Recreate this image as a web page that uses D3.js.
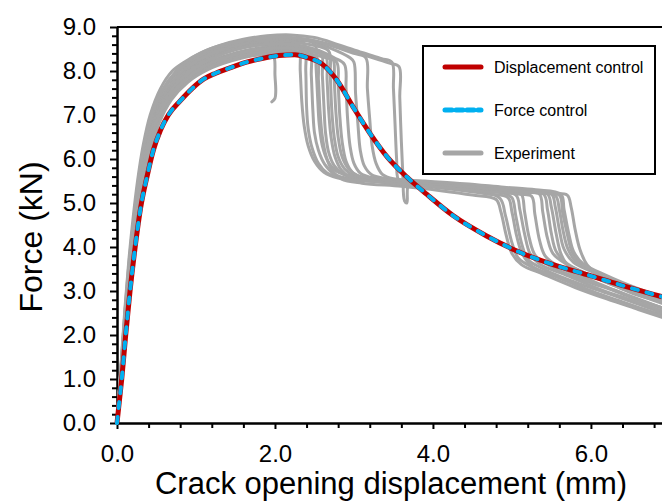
<!DOCTYPE html>
<html><head><meta charset="utf-8">
<script src="https://cdn.jsdelivr.net/npm/d3@7"></script>
<style>body{margin:0;background:#fff} svg{display:block} text{font-family:"Liberation Sans",Arial,sans-serif;fill:#000}</style>
</head><body><svg id="c" width="662" height="502"></svg>
<script>
// ---- data ----
const xMajorTicks = [0, 2, 4, 6];
const xMinorTicks = [0.4, 0.8, 1.2, 1.6, 2.4, 2.8, 3.2, 3.6, 4.4, 4.8, 5.2, 5.6, 6.4, 6.8];
const yMajorTicks = [0, 1, 2, 3, 4, 5, 6, 7, 8, 9];
const yMinorTicks = [0.2,0.4,0.6,0.8,1.2,1.4,1.6,1.8,2.2,2.4,2.6,2.8,3.2,3.4,3.6,3.8,4.2,4.4,4.6,4.8,5.2,5.4,5.6,5.8,6.2,6.4,6.6,6.8,7.2,7.4,7.6,7.8,8.2,8.4,8.6,8.8];
const legendLabels = ["Displacement control", "Force control", "Experiment"];
const xTitle = "Crack opening displacement (mm)";
const yTitle = "Force (kN)";

// model curve (displacement control & force control coincide)
const displacementControl = [[0,0],[0.03,0.5],[0.06,1.0],[0.11,2.0],[0.165,3.0],[0.23,4.0],[0.3,4.9],[0.38,5.6],[0.46,6.2],[0.55,6.65],[0.65,7.0],[0.8,7.32],[0.95,7.6],[1.1,7.82],[1.25,7.95],[1.43,8.07],[1.64,8.2],[1.85,8.29],[2.05,8.35],[2.25,8.37],[2.42,8.3],[2.61,8.14],[2.78,7.8],[2.99,7.18],[3.2,6.59],[3.42,6.05],[3.67,5.59],[3.92,5.2],[4.25,4.72],[4.68,4.25],[5.1,3.88],[5.52,3.6],[5.95,3.37],[6.37,3.14],[6.78,2.93],[6.9,2.87]];
const forceControl = [[0,0],[0.03,0.5],[0.06,1.0],[0.11,2.0],[0.165,3.0],[0.23,4.0],[0.3,4.9],[0.38,5.6],[0.46,6.2],[0.55,6.65],[0.65,7.0],[0.8,7.32],[0.95,7.6],[1.1,7.82],[1.25,7.95],[1.43,8.07],[1.64,8.2],[1.85,8.29],[2.05,8.35],[2.25,8.37],[2.42,8.3],[2.61,8.14],[2.78,7.8],[2.99,7.18],[3.2,6.59],[3.42,6.05],[3.67,5.59],[3.92,5.2],[4.25,4.72],[4.68,4.25],[5.1,3.88],[5.52,3.6],[5.95,3.37],[6.37,3.14],[6.78,2.93],[6.9,2.87]];

// experiments
const exp1 = [[0,0],[0.05,1.3],[0.1,2.6],[0.15,3.7],[0.2,4.6],[0.26,5.5],[0.33,6.3],[0.42,7.0],[0.55,7.6],[0.7,8.0],[0.85,8.2],[1.05,8.4],[1.3,8.58],[1.6,8.72],[1.9,8.8],[2.2,8.82],[2.5,8.76],[2.8,8.6],[3.1,8.42],[3.35,8.28],[3.48,8.2],[3.5,7.6],[3.52,6.8],[3.54,6.0],[3.56,5.55],[3.62,5.5],[3.9,5.47],[4.3,5.42],[4.7,5.36],[5.1,5.3],[5.5,5.22],[5.7,5.18],[5.75,4.9],[5.8,4.4],[5.86,3.95],[5.95,3.6],[6.1,3.35],[6.4,3.1],[6.7,2.9],[6.9,2.78]];
const exp2 = [[0,0],[0.06,1.3],[0.11,2.5],[0.16,3.6],[0.21,4.5],[0.27,5.4],[0.34,6.2],[0.43,6.9],[0.56,7.5],[0.72,7.9],[0.9,8.15],[1.1,8.35],[1.4,8.55],[1.7,8.68],[2.0,8.74],[2.3,8.74],[2.6,8.65],[2.9,8.5],[3.2,8.32],[3.45,8.18],[3.57,8.1],[3.58,7.4],[3.6,6.4],[3.62,5.6],[3.64,5.05],[3.67,5.0],[3.7,5.45],[4.0,5.43],[4.4,5.36],[4.8,5.3],[5.2,5.24],[5.45,5.2],[5.5,4.9],[5.56,4.3],[5.62,3.85],[5.72,3.55],[6.0,3.25],[6.3,3.02],[6.6,2.8],[6.9,2.62]];
const exp3 = [[0,0],[0.06,1.2],[0.12,2.5],[0.18,3.6],[0.24,4.5],[0.31,5.4],[0.39,6.2],[0.5,6.9],[0.65,7.45],[0.85,7.8],[1.1,8.05],[1.4,8.25],[1.7,8.35],[1.95,8.38],[1.99,8.3],[2.0,7.9],[2.01,7.55],[2.0,7.38],[1.96,7.3]];
const exp4 = [[0,0],[0.05,1.2],[0.1,2.4],[0.16,3.6],[0.22,4.6],[0.29,5.5],[0.37,6.3],[0.47,6.95],[0.62,7.5],[0.8,7.9],[1.0,8.18],[1.3,8.42],[1.6,8.58],[1.9,8.65],[2.2,8.66],[2.37,8.62],[2.39,8.0],[2.4,7.2],[2.42,6.7],[2.47,6.25],[2.55,5.9],[2.66,5.68],[2.85,5.56],[3.2,5.5],[3.7,5.44],[4.2,5.36],[4.6,5.28],[4.85,5.1],[4.92,4.7],[5.0,4.1],[5.08,3.75],[5.25,3.55],[5.6,3.3],[6.0,3.0],[6.4,2.75],[6.9,2.45]];
const exp5 = [[0,0],[0.06,1.2],[0.11,2.4],[0.17,3.6],[0.23,4.6],[0.3,5.5],[0.38,6.3],[0.49,6.95],[0.64,7.45],[0.82,7.82],[1.05,8.1],[1.35,8.33],[1.65,8.48],[1.95,8.55],[2.25,8.56],[2.44,8.5],[2.46,7.9],[2.48,7.1],[2.5,6.6],[2.55,6.2],[2.63,5.88],[2.75,5.66],[2.95,5.55],[3.4,5.48],[3.9,5.4],[4.4,5.32],[4.9,5.22],[5.0,5.12],[5.05,4.7],[5.12,4.1],[5.2,3.72],[5.4,3.5],[5.8,3.2],[6.2,2.95],[6.6,2.7],[6.9,2.5]];
const exp6 = [[0,0],[0.05,1.25],[0.1,2.5],[0.15,3.6],[0.21,4.6],[0.28,5.5],[0.36,6.3],[0.46,6.95],[0.6,7.5],[0.78,7.92],[1.0,8.22],[1.3,8.46],[1.6,8.6],[1.9,8.68],[2.2,8.7],[2.5,8.62],[2.52,8.1],[2.54,7.4],[2.56,6.8],[2.6,6.3],[2.67,5.95],[2.78,5.72],[3.0,5.6],[3.5,5.52],[4.0,5.45],[4.5,5.37],[5.0,5.28],[5.12,5.2],[5.16,4.8],[5.22,4.2],[5.3,3.8],[5.5,3.55],[5.9,3.25],[6.3,3.0],[6.6,2.8],[6.9,2.62]];
const exp7 = [[0,0],[0.06,1.25],[0.12,2.5],[0.18,3.6],[0.24,4.55],[0.31,5.45],[0.4,6.25],[0.51,6.9],[0.66,7.4],[0.85,7.78],[1.1,8.08],[1.4,8.3],[1.7,8.44],[2.0,8.5],[2.3,8.5],[2.58,8.42],[2.6,7.9],[2.62,7.2],[2.64,6.6],[2.68,6.15],[2.75,5.85],[2.87,5.65],[3.1,5.55],[3.6,5.48],[4.1,5.4],[4.6,5.3],[5.1,5.2],[5.25,5.15],[5.29,4.75],[5.35,4.15],[5.42,3.8],[5.6,3.55],[6.0,3.22],[6.4,2.95],[6.7,2.75],[6.9,2.62]];
const exp8 = [[0,0],[0.05,1.2],[0.1,2.4],[0.16,3.55],[0.22,4.55],[0.29,5.45],[0.37,6.25],[0.47,6.9],[0.61,7.45],[0.79,7.85],[1.0,8.13],[1.3,8.4],[1.6,8.55],[1.9,8.63],[2.2,8.65],[2.5,8.58],[2.68,8.45],[2.7,7.9],[2.72,7.1],[2.75,6.5],[2.8,6.05],[2.88,5.78],[3.0,5.62],[3.3,5.55],[3.8,5.48],[4.3,5.4],[4.8,5.32],[5.2,5.25],[5.35,5.2],[5.39,4.8],[5.45,4.2],[5.52,3.85],[5.7,3.6],[6.0,3.35],[6.4,3.05],[6.7,2.85],[6.9,2.72]];
const exp9 = [[0,0],[0.06,1.2],[0.12,2.4],[0.18,3.5],[0.25,4.5],[0.32,5.4],[0.41,6.2],[0.52,6.85],[0.68,7.38],[0.88,7.75],[1.12,8.05],[1.42,8.27],[1.72,8.4],[2.0,8.45],[2.3,8.44],[2.6,8.32],[2.78,8.2],[2.8,7.7],[2.82,7.0],[2.85,6.4],[2.9,5.95],[2.98,5.7],[3.1,5.58],[3.5,5.5],[4.0,5.43],[4.5,5.35],[5.0,5.27],[5.4,5.2],[5.45,4.85],[5.5,4.3],[5.56,3.9],[5.7,3.62],[6.0,3.35],[6.3,3.12],[6.6,2.9],[6.9,2.75]];
const exp10 = [[0,0],[0.05,1.2],[0.11,2.45],[0.17,3.6],[0.23,4.55],[0.3,5.45],[0.38,6.25],[0.48,6.9],[0.63,7.45],[0.81,7.85],[1.03,8.15],[1.33,8.4],[1.63,8.55],[1.93,8.6],[2.23,8.6],[2.5,8.5],[2.75,8.3],[2.88,8.15],[2.9,7.6],[2.92,6.9],[2.95,6.3],[3.0,5.9],[3.08,5.68],[3.25,5.57],[3.7,5.5],[4.2,5.42],[4.7,5.33],[5.2,5.25],[5.5,5.2],[5.55,4.9],[5.6,4.4],[5.66,3.95],[5.78,3.65],[6.0,3.45],[6.3,3.2],[6.6,2.98],[6.9,2.82]];
const exp11 = [[0,0],[0.06,1.3],[0.11,2.5],[0.17,3.65],[0.22,4.6],[0.28,5.5],[0.35,6.3],[0.45,7.0],[0.58,7.55],[0.75,7.95],[0.95,8.25],[1.2,8.48],[1.5,8.64],[1.8,8.72],[2.1,8.75],[2.4,8.7],[2.7,8.52],[2.95,8.3],[3.0,8.2],[3.02,7.5],[3.05,6.8],[3.08,6.2],[3.13,5.85],[3.22,5.65],[3.4,5.56],[3.9,5.48],[4.4,5.4],[4.9,5.32],[5.3,5.24],[5.6,5.18],[5.64,4.8],[5.7,4.3],[5.76,3.9],[5.88,3.6],[6.1,3.4],[6.4,3.15],[6.7,2.95],[6.9,2.82]];
const exp12 = [[0,0],[0.06,1.2],[0.12,2.35],[0.18,3.45],[0.25,4.45],[0.33,5.35],[0.42,6.15],[0.53,6.8],[0.69,7.35],[0.9,7.75],[1.15,8.03],[1.45,8.23],[1.75,8.36],[2.05,8.4],[2.35,8.37],[2.53,8.3],[2.55,7.8],[2.57,7.1],[2.6,6.5],[2.65,6.05],[2.72,5.75],[2.84,5.55],[3.1,5.45],[3.6,5.38],[4.1,5.28],[4.5,5.18],[4.8,5.08],[4.86,4.8],[4.93,4.25],[5.0,3.85],[5.12,3.6],[5.4,3.38],[5.8,3.08],[6.2,2.82],[6.6,2.58],[6.9,2.4]];
const exp13 = [[0,0],[0.05,1.2],[0.1,2.4],[0.16,3.55],[0.22,4.5],[0.29,5.4],[0.38,6.25],[0.48,6.9],[0.63,7.42],[0.82,7.8],[1.05,8.08],[1.35,8.3],[1.65,8.45],[1.95,8.52],[2.25,8.53],[2.5,8.45],[2.64,8.36],[2.66,7.8],[2.68,7.1],[2.71,6.5],[2.76,6.05],[2.84,5.75],[2.96,5.58],[3.3,5.48],[3.8,5.4],[4.3,5.3],[4.7,5.2],[4.95,5.12],[5.0,4.8],[5.06,4.25],[5.13,3.85],[5.26,3.55],[5.6,3.3],[6.0,3.0],[6.4,2.72],[6.7,2.55],[6.9,2.42]];
const exp14 = [[0,0],[0.06,1.25],[0.11,2.45],[0.17,3.6],[0.23,4.55],[0.3,5.45],[0.38,6.25],[0.49,6.9],[0.64,7.45],[0.83,7.85],[1.06,8.15],[1.36,8.4],[1.66,8.55],[1.96,8.62],[2.2,8.6],[2.3,8.55],[2.32,8.0],[2.34,7.3],[2.37,6.75],[2.42,6.3],[2.5,5.95],[2.62,5.7],[2.8,5.57],[3.2,5.5],[3.7,5.42],[4.2,5.34],[4.7,5.25],[5.05,5.18],[5.1,4.85],[5.16,4.3],[5.23,3.85],[5.36,3.6],[5.7,3.35],[6.1,3.05],[6.5,2.8],[6.9,2.55]];
const exp15 = [[0,0],[0.05,1.15],[0.11,2.35],[0.17,3.5],[0.24,4.5],[0.31,5.4],[0.4,6.2],[0.5,6.85],[0.66,7.4],[0.86,7.8],[1.1,8.1],[1.4,8.32],[1.7,8.46],[2.0,8.52],[2.3,8.5],[2.55,8.4],[2.73,8.28],[2.75,7.8],[2.77,7.1],[2.8,6.5],[2.85,6.05],[2.93,5.78],[3.05,5.62],[3.4,5.53],[3.9,5.46],[4.4,5.38],[4.9,5.3],[5.3,5.23],[5.55,5.17],[5.6,4.85],[5.65,4.35],[5.71,3.95],[5.82,3.65],[6.1,3.38],[6.4,3.12],[6.7,2.9],[6.9,2.75]];
const exp16 = [[0,0],[0.05,1.25],[0.1,2.5],[0.16,3.65],[0.21,4.6],[0.27,5.5],[0.34,6.3],[0.44,7.0],[0.57,7.55],[0.74,7.98],[0.95,8.3],[1.2,8.52],[1.5,8.66],[1.8,8.74],[2.1,8.77],[2.4,8.72],[2.7,8.58],[3.0,8.4],[3.15,8.3],[3.17,7.6],[3.2,6.9],[3.23,6.3],[3.28,5.9],[3.36,5.65],[3.5,5.55],[3.9,5.5],[4.4,5.44],[4.9,5.36],[5.3,5.3],[5.62,5.2],[5.66,4.85],[5.72,4.3],[5.78,3.9],[5.9,3.62],[6.2,3.35],[6.5,3.12],[6.9,2.85]];
const experiments = [exp1,exp2,exp3,exp4,exp5,exp6,exp7,exp8,exp9,exp10,exp11,exp12,exp13,exp14,exp15,exp16];

// ---- drawing ----
const svg = d3.select("#c");
const L = 117, R = 662, T = 27, B = 423;
const x = d3.scaleLinear().domain([0, 6.9]).range([L, R]);
const y = d3.scaleLinear().domain([0, 9]).range([B, T]);

svg.append("defs").append("clipPath").attr("id","clip")
  .append("rect").attr("x", L-3).attr("y", T).attr("width", R-L+3).attr("height", B-T+3);

const fmt = d3.format(".1f");
// x axis
const gxMinor = svg.append("g").attr("transform", `translate(0,${B})`)
  .call(d3.axisBottom(x).tickValues(xMinorTicks).tickSize(5).tickSizeOuter(0).tickFormat(""));
const gx = svg.append("g").attr("transform", `translate(0,${B})`)
  .call(d3.axisBottom(x).tickValues(xMajorTicks).tickSize(6).tickSizeOuter(0).tickPadding(16).tickFormat(fmt));
// y axis
const gyMinor = svg.append("g").attr("transform", `translate(${L},0)`)
  .call(d3.axisLeft(y).tickValues(yMinorTicks).tickSize(5).tickSizeOuter(0).tickFormat(""));
const gy = svg.append("g").attr("transform", `translate(${L},0)`)
  .call(d3.axisLeft(y).tickValues(yMajorTicks).tickSize(7).tickSizeOuter(0).tickPadding(14).tickFormat(fmt));
[gxMinor, gx, gyMinor, gy].forEach(g => {
  g.selectAll("path.domain").attr("stroke", "#000").attr("stroke-width", 2);
  g.selectAll(".tick line").attr("stroke", "#000").attr("stroke-width", 2);
  g.selectAll(".tick text").attr("font-size", 24).attr("font-family", '"Liberation Sans",Arial,sans-serif').attr("fill", "#000");
});
// top frame line
svg.append("line").attr("x1", L).attr("x2", R).attr("y1", T).attr("y2", T)
  .attr("stroke", "#000").attr("stroke-width", 2);

// curves
const plot = svg.append("g").attr("clip-path", "url(#clip)");
const lineExp = d3.line().x(d => x(d[0])).y(d => y(d[1])).curve(d3.curveCatmullRom.alpha(0.5));
const lineModel = d3.line().x(d => x(d[0])).y(d => y(d[1])).curve(d3.curveMonotoneX);
plot.selectAll("path.exp").data(experiments).join("path").attr("class","exp")
  .attr("d", lineExp).attr("fill","none").attr("stroke","#A6A6A6").attr("stroke-width",3)
  .attr("stroke-linejoin","round").attr("stroke-linecap","round");
plot.append("path").attr("d", lineModel(displacementControl)).attr("fill","none")
  .attr("stroke","#C00000").attr("stroke-width",5).attr("stroke-linejoin","round");
plot.append("path").attr("d", lineModel(forceControl)).attr("fill","none")
  .attr("stroke","#00B0F0").attr("stroke-width",4).attr("stroke-dasharray","6,9").attr("stroke-linecap","round");

// titles
svg.append("text").attr("x", 391).attr("y", 494).attr("text-anchor","middle").attr("font-size",31).text(xTitle);
svg.append("text").attr("transform","translate(42,237) rotate(-90)").attr("text-anchor","middle").attr("font-size",32).text(yTitle);

// legend
const lg = svg.append("g");
lg.append("rect").attr("x",423).attr("y",46).attr("width",232).attr("height",128)
  .attr("fill","#fff").attr("stroke","#000").attr("stroke-width",2);
const legendStyles = [
  {stroke:"#C00000", w:5, dash:null},
  {stroke:"#00B0F0", w:5, dash:"7,4"},
  {stroke:"#A6A6A6", w:5, dash:null}
];
const ly = [67, 110, 153];
legendLabels.forEach((t,i) => {
  const s = legendStyles[i];
  const ln = lg.append("line").attr("x1",445).attr("x2",481).attr("y1",ly[i]).attr("y2",ly[i])
    .attr("stroke",s.stroke).attr("stroke-width",s.w).attr("stroke-linecap","round");
  if (s.dash) ln.attr("stroke-dasharray", s.dash);
  lg.append("text").attr("x",494).attr("y",ly[i]+6).attr("font-size",16).text(t);
});
</script></body></html>
